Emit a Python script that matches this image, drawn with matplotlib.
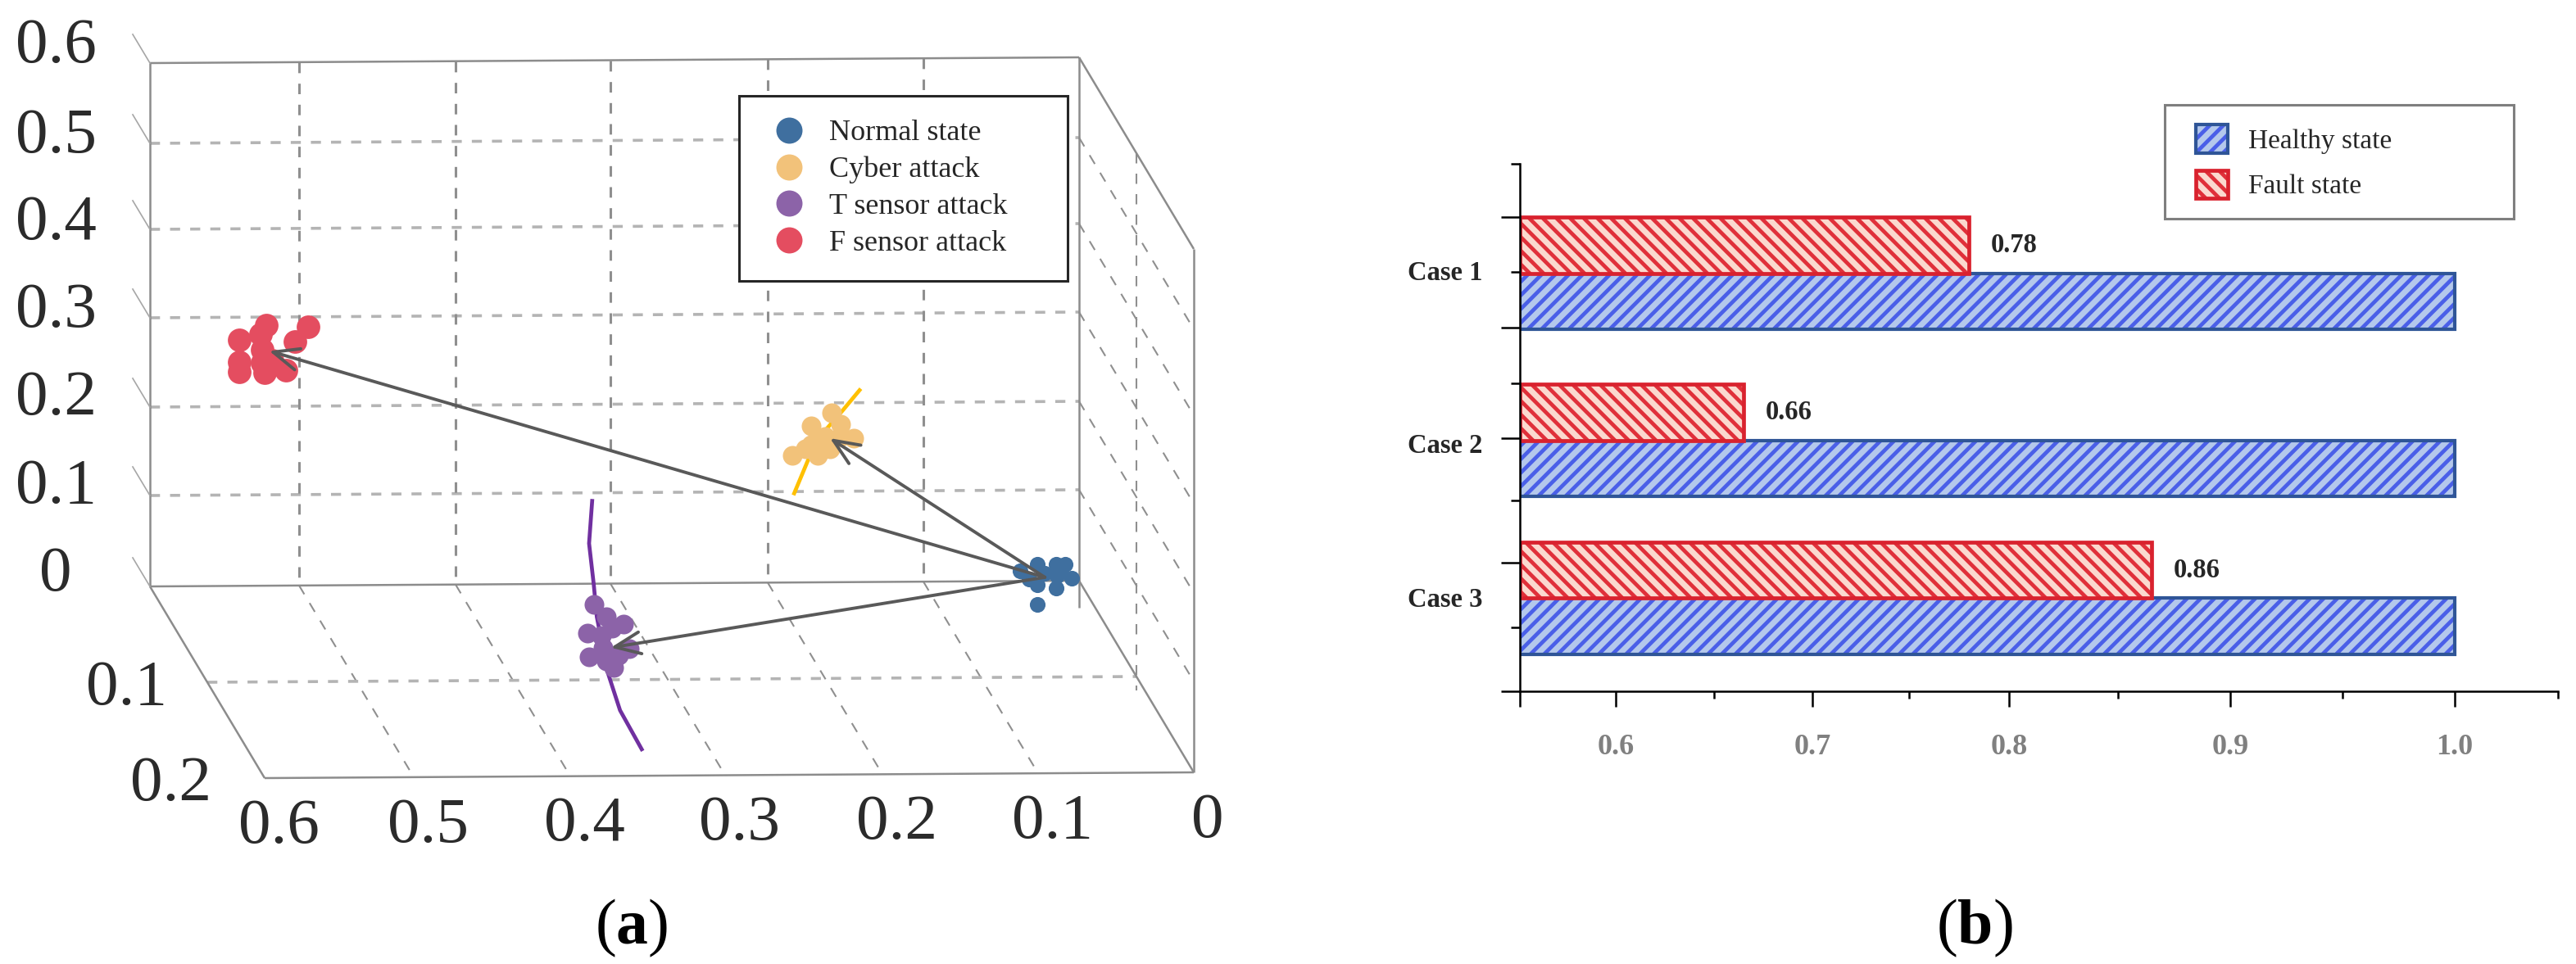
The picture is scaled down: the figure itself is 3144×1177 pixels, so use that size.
import matplotlib
matplotlib.use('Agg')
import matplotlib.pyplot as plt
import numpy as np
from matplotlib.legend_handler import HandlerPatch, HandlerTuple
from matplotlib.lines import Line2D
from matplotlib.patches import Patch, Rectangle

plt.rcParams['font.family'] = ['Liberation Serif', 'DejaVu Serif']
plt.rcParams['mathtext.fontset'] = 'custom'
plt.rcParams['mathtext.rm'] = 'Liberation Serif'
plt.rcParams['mathtext.bf'] = 'Liberation Serif:bold'
plt.rcParams['hatch.linewidth'] = 3.4

W, H = 3144, 1177

# panel (a): clusters, (x, y, z) in chart units
x_ticks = [0, 0.1, 0.2, 0.3, 0.4, 0.5, 0.6]
z_ticks = [0, 0.1, 0.2, 0.3, 0.4, 0.5, 0.6]
y_ticks = [0, 0.1, 0.2]

normal_x = [0.038, 0.027, 0.027, 0.027, 0.015, 0.009, 0.015, 0.005, 0.014, 0.032, 0.012, 0.022]
normal_z = [0.011, 0.018, -0.004, -0.026, 0.018, 0.018, -0.008, 0.003, 0.006, 0.002, 0.011, 0.008]
normal_y = 0.0

cyber_x = [0.159, 0.172, 0.153, 0.145, 0.184, 0.176, 0.168, 0.168, 0.160, 0.153, 0.163, 0.172]
cyber_z = [0.189, 0.174, 0.176, 0.160, 0.141, 0.148, 0.141, 0.158, 0.148, 0.162, 0.162, 0.153]
cyber_y = 0.0

t_sensor_x = [0.333, 0.325, 0.314, 0.337, 0.328, 0.310, 0.336, 0.325, 0.320, 0.327, 0.317, 0.321]
t_sensor_z = [0.041, 0.027, 0.019, 0.009, 0.006, -0.008, -0.017, -0.022, -0.029, -0.007, -0.015, 0.014]
t_sensor_y = 0.06

f_sensor_x = [0.522, 0.494, 0.540, 0.526, 0.503, 0.540, 0.540, 0.523, 0.509, 0.525, 0.518, 0.525]
f_sensor_z = [0.291, 0.289, 0.275, 0.281, 0.272, 0.250, 0.239, 0.238, 0.240, 0.263, 0.251, 0.249]
f_sensor_y = 0.0

cyber_curve_x = [0.183, 0.173, 0.163, 0.152, 0.141]
cyber_curve_z = [0.098, 0.140, 0.169, 0.191, 0.214]
t_curve_x = [0.334, 0.336, 0.333, 0.331, 0.324, 0.316, 0.302]
t_curve_z = [0.156, 0.108, 0.063, 0.027, -0.034, -0.076, -0.119]

arrow_start = (0.022, 0.0, 0.004)
arrow_heads = [(0.520, 0.0, 0.262), (0.160, 0.0, 0.160), (0.322, 0.06, -0.007)]

state_names = ['Normal state', 'Cyber attack', 'T sensor attack', 'F sensor attack']
state_colors = ['#3F6F9F', '#F2C27A', '#8C63A8', '#E44D60']

# panel (b)
cases = ['Case 1', 'Case 2', 'Case 3']
healthy = [1.0, 1.0, 1.0]
fault = [0.78, 0.665, 0.865]
fault_labels = ['0.78', '0.66', '0.86']
b_ticks = [0.55, 0.6, 0.7, 0.8, 0.9, 1.0]
b_tick_labels = ['', '0.6', '0.7', '0.8', '0.9', '1.0']
b_minor_ticks = [0.65, 0.75, 0.85, 0.95, 1.05]

# the picture's axes are not quite even, so the scales are read off its ticks
x_px = [0, 190, 380, 572, 761, 952, 1134]
z_px = [0, 111, 219, 328, 436, 541, 639]
z_label_lift = [14, 10, 10, 8, 7, 8, 20]
b_scale_vals = [0.55, 0.6, 0.65, 0.7, 0.75, 0.8, 0.85, 0.9, 0.95, 1.0, 1.05]
b_scale_px = [283, 400, 520, 640, 758, 880, 1013, 1150, 1287, 1424, 1550]


def project(x, y, z):
    """oblique view of the box: back right floor corner is at pixel (1317, 709)"""
    x, y, z = np.asarray(x, float), np.asarray(y, float), np.asarray(z, float)
    dz = np.where(z < 0, z * 1110, np.interp(z, z_ticks, z_px))
    px = 1317 - np.interp(x, x_ticks, x_px) + 700 * y
    py = 709 + 11.67 * x + 1170 * y - dz
    return px, py


def line3d(ax, a, b, **kw):
    px, py = project(*zip(a, b))
    ax.plot(px, py, **kw)


def inset_swatch(legend, orig_handle, xdescent, ydescent, width, height, fontsize):
    # legend pads are equal on all sides, the reference has more room on the left
    return Rectangle((-xdescent + 10, -ydescent), width - 10, height)


fig = plt.figure(figsize=(W / 100, H / 100), dpi=100)
ax = fig.add_axes([0, 0, 1, 1])
ax.set_xlim(0, W)
ax.set_ylim(H, 0)
ax.axis('off')

solid = dict(color='#8C8C8C', lw=1.8, solid_capstyle='butt', zorder=2)
wall_dash = dict(color='#B4B4B4', lw=2.6, ls=(0, (3.4, 3.4)), zorder=1)
vert_dash = dict(color='#8F8F8F', lw=2.2, ls=(0, (4.2, 4.2)), zorder=1)
thin_dash = dict(color='#8F8F8F', lw=1.5, ls=(0, (6, 6)), zorder=1)

# box outline
line3d(ax, (0.6, 0, 0.6), (0, 0, 0.6), **solid)
line3d(ax, (0.6, 0, 0.6), (0.6, 0, 0), **solid)
line3d(ax, (0, 0, 0.6), (0, 0, -0.03), **solid)
line3d(ax, (0.6, 0, 0), (0, 0, 0), **solid)
line3d(ax, (0.6, 0, 0), (0.6, 0.2, 0), **solid)
line3d(ax, (0.6, 0.2, 0), (0, 0.2, 0), **solid)
line3d(ax, (0, 0, 0), (0, 0.2, 0), **solid)
line3d(ax, (0, 0, 0.6), (0, 0.2, 0.6), **solid)
line3d(ax, (0, 0.2, 0.6), (0, 0.2, 0), **solid)

# grid on the walls and floor
for z in z_ticks[1:-1]:
    line3d(ax, (0.6, 0, z), (0, 0, z), **wall_dash)
    line3d(ax, (0, 0, z), (0, 0.2, z), **thin_dash)
for x in x_ticks[1:-1]:
    line3d(ax, (x, 0, 0.6), (x, 0, 0), **vert_dash)
    line3d(ax, (x, 0, 0), (x, 0.2, 0), **thin_dash)
line3d(ax, (0.6, 0.1, 0), (0, 0.1, 0), **wall_dash)
line3d(ax, (0, 0.1, 0.6), (0, 0.1, -0.015), **thin_dash)

# tick stubs and labels
for z, lift in zip(z_ticks, z_label_lift):
    line3d(ax, (0.6, 0, z), (0.605, -0.03, z), color='#A6A6A6', lw=1.2, zorder=2)
    px, py = project(0.6, 0, z)
    ax.annotate('0' if z == 0 else f'{z:.1f}', (px, py), xytext=(-115, lift), textcoords='offset pixels',
                ha='center', va='center', fontsize=57, color='#2B2B2B')
for x in x_ticks:
    px, py = project(x, 0.2, 0)
    ax.annotate('0' if x == 0 else f'{x:.1f}', (px, py), xytext=(17, -60), textcoords='offset pixels',
                ha='center', va='center', fontsize=57, color='#2B2B2B')
for y, dx in zip(y_ticks[1:], [-98, -115]):
    px, py = project(0.6, y, 0)
    ax.annotate(f'{y:.1f}', (px, py), xytext=(dx, -8), textcoords='offset pixels',
                ha='center', va='center', fontsize=57, color='#2B2B2B')

# trajectories behind the clusters
px, py = project(cyber_curve_x, cyber_y, cyber_curve_z)
ax.plot(px, py, color='#FFC000', lw=3.4, zorder=3)
px, py = project(t_curve_x, t_sensor_y, t_curve_z)
ax.plot(px, py, color='#7030A0', lw=3.4, zorder=3)

clusters = [(normal_x, normal_y, normal_z, 190), (cyber_x, cyber_y, cyber_z, 300),
            (t_sensor_x, t_sensor_y, t_sensor_z, 300), (f_sensor_x, f_sensor_y, f_sensor_z, 430)]
for (cx, cy, cz, size), color in zip(clusters, state_colors):
    px, py = project(cx, cy, cz)
    ax.scatter(px, py, s=size, color=color, linewidths=0, zorder=4)

start = project(*arrow_start)
for head in arrow_heads:
    ax.annotate('', xy=project(*head), xytext=start, zorder=5,
                arrowprops=dict(arrowstyle='->,head_length=0.75,head_width=0.32', mutation_scale=30,
                                color='#595959', lw=2.8, shrinkA=0, shrinkB=0))

handles_a = [Line2D([], [], marker='o', ls='none', color=c, ms=23, mew=0) for c in state_colors]
leg = ax.legend(handles_a, state_names, loc='upper left', mode='expand',
                bbox_to_anchor=(902 / W, 1 - 339 / H, 401 / W, 222 / H), bbox_transform=fig.transFigure,
                borderaxespad=0, borderpad=0.8, labelspacing=0.32, handlelength=1.78, handletextpad=0.47,
                prop={'size': 26}, fancybox=False, framealpha=1, labelcolor='#262626')
leg.get_frame().set_edgecolor('#262626')
leg.get_frame().set_linewidth(2.2)
leg.set_zorder(6)

ax.text(771, 1133, r'($\mathbf{a}$)', ha='center', va='center', fontsize=56, color='black')
ax.text(2410, 1133, r'($\mathbf{b}$)', ha='center', va='center', fontsize=56, color='black')

# panel (b)
ax_b = fig.add_axes([1855 / W, 1 - 844 / H, 1267 / W, 644 / H])
ax_b.patch.set_alpha(0)


def to_px(v):
    return np.interp(v, b_scale_vals, b_scale_px)


def from_px(p):
    return np.interp(p, b_scale_px, b_scale_vals)


ax_b.set_xscale('function', functions=(to_px, from_px))
ax_b.set_xlim(0.55, 1.05)
ax_b.set_ylim(2.572, -0.673)

case_pos = np.array([0, 1.028, 2.0])
bar_h = 0.345
healthy_kw = dict(facecolor='#B4C8EC', edgecolor='#4A5FE8', hatch='//', lw=0)
fault_kw = dict(facecolor='#FBD9CF', edgecolor='#E0303A', hatch='\\\\', lw=0)
healthy_edge = dict(fill=False, edgecolor='#2F5597', lw=3)
fault_edge = dict(fill=False, edgecolor='#D9222E', lw=3.4)

left = 0.55
ax_b.barh(case_pos + bar_h / 2, np.array(healthy) - left, bar_h, left=left, **healthy_kw)
ax_b.barh(case_pos + bar_h / 2, np.array(healthy) - left, bar_h, left=left, **healthy_edge)
ax_b.barh(case_pos - bar_h / 2, np.array(fault) - left, bar_h, left=left, **fault_kw)
ax_b.barh(case_pos - bar_h / 2, np.array(fault) - left, bar_h, left=left, **fault_edge)

for pos, val, label in zip(case_pos, fault, fault_labels):
    ax_b.annotate(label, (val, pos - bar_h / 2), xytext=(27, 0), textcoords='offset pixels',
                  ha='left', va='center', fontsize=23.5, fontweight='bold', color='#262626')

for y, name in zip([0, 1.065, 2.01], cases):
    ax_b.text(-0.036, y, name, transform=ax_b.get_yaxis_transform(), ha='right', va='center',
              fontsize=23.5, fontweight='bold', color='#262626')

ax_b.spines['top'].set_visible(False)
ax_b.spines['right'].set_visible(False)
ax_b.spines['left'].set_linewidth(1.8)
ax_b.spines['bottom'].set_linewidth(1.8)
ax_b.set_xticks(b_ticks, b_tick_labels, fontsize=26, fontweight='bold', color='#808080')
ax_b.set_xticks(b_minor_ticks, minor=True)
ax_b.set_yticks([-0.345, 0.335, 1.015, 1.781, 2.572], [])
ax_b.set_yticks([-0.673, -0.008, 0.678, 1.398, 2.179], minor=True)
ax_b.tick_params(axis='x', which='major', length=13.5, width=1.8, pad=24)
ax_b.tick_params(axis='x', which='minor', length=6.5, width=1.8)
ax_b.tick_params(axis='y', which='major', length=16.5, width=1.8)
ax_b.tick_params(axis='y', which='minor', length=8, width=1.8)

handles_b = [(Patch(**healthy_kw), Patch(**healthy_edge)), (Patch(**fault_kw), Patch(**fault_edge))]
leg_b = ax_b.legend(handles_b, ['Healthy state', 'Fault state'], loc='upper left', mode='expand',
                    bbox_to_anchor=(2642 / W, 1 - 270 / H, 426 / W, 142 / H), bbox_transform=fig.transFigure,
                    handler_map={tuple: HandlerTuple(ndivide=1, pad=0), Patch: HandlerPatch(patch_func=inset_swatch)},
                    borderaxespad=0, borderpad=0.72, labelspacing=0.6, handlelength=1.6, handleheight=1.23,
                    handletextpad=0.75, prop={'size': 24}, fancybox=False, framealpha=1, labelcolor='#262626')
leg_b.get_frame().set_edgecolor('#7F7F7F')
leg_b.get_frame().set_linewidth(2.2)

fig.savefig('out.png', dpi=100, facecolor='white')
